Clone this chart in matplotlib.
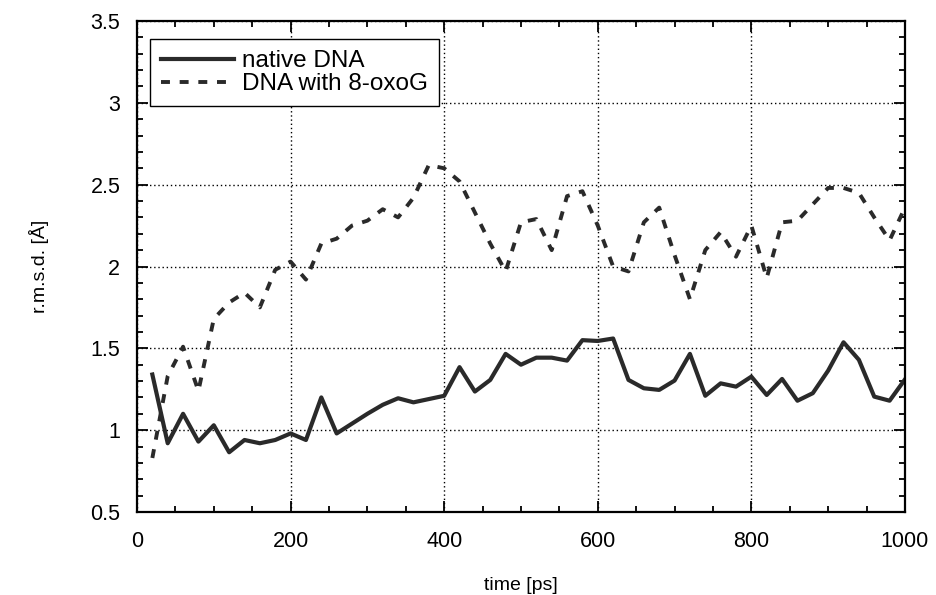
import matplotlib
matplotlib.use("Agg")
import matplotlib.pyplot as plt
from matplotlib.ticker import MultipleLocator

plt.rcParams['font.family'] = ['Liberation Sans', 'DejaVu Sans']

# time axis, sampled every 20 ps
time_ps = list(range(20, 1001, 20))

native_dna = [1.34, 0.92, 1.10, 0.93, 1.03, 0.865, 0.94, 0.92, 0.94, 0.98,
              0.94, 1.20, 0.98, 1.04, 1.10, 1.155, 1.195, 1.17, 1.19, 1.21,
              1.385, 1.236, 1.307, 1.466, 1.40, 1.443, 1.443, 1.425, 1.55, 1.545,
              1.56, 1.307, 1.256, 1.246, 1.303, 1.466, 1.21, 1.286, 1.266, 1.327,
              1.215, 1.313, 1.18, 1.226, 1.364, 1.537, 1.43, 1.205, 1.18, 1.31]

oxog_dna = [0.83, 1.33, 1.51, 1.24, 1.68, 1.78, 1.84, 1.75, 1.98, 2.03,
            1.92, 2.14, 2.17, 2.25, 2.28, 2.35, 2.30, 2.42, 2.62, 2.60,
            2.52, 2.33, 2.14, 1.97, 2.27, 2.29, 2.10, 2.43, 2.46, 2.25,
            2.00, 1.97, 2.27, 2.36, 2.07, 1.80, 2.10, 2.21, 2.06, 2.25,
            1.93, 2.27, 2.28, 2.38, 2.48, 2.48, 2.45, 2.30, 2.16, 2.36]

labels = ['native DNA', 'DNA with 8-oxoG']

fig = plt.figure(figsize=(9.37, 5.95), dpi=100)
ax = fig.add_axes([0.1462, 0.1395, 0.8196, 0.8252])

ax.plot(time_ps, native_dna, color='#2a2a2a', lw=3.0, label=labels[0])
ax.plot(time_ps, oxog_dna, color='#2a2a2a', lw=2.8, ls=(0, (2.3, 2.5)),
        label=labels[1])

ax.set_xlim(0, 1000)
ax.set_ylim(0.5, 3.5)
ax.xaxis.set_major_locator(MultipleLocator(200))
ax.xaxis.set_minor_locator(MultipleLocator(50))
ax.yaxis.set_minor_locator(MultipleLocator(0.1))
ax.set_yticks([0.5, 1, 1.5, 2, 2.5, 3, 3.5])
ax.set_yticklabels(['0.5', '1', '1.5', '2', '2.5', '3', '3.5'])

ax.tick_params(which='both', direction='in', top=True, right=True,
               color='black', width=1.3)
ax.tick_params(which='major', length=8, labelsize=15.5)
ax.tick_params(axis='y', which='major', pad=12)
ax.tick_params(axis='x', which='major', pad=14)
ax.tick_params(which='minor', length=4.5)

for sp in ax.spines.values():
    sp.set_linewidth(1.6)

ax.grid(True, which='major', color='black', ls=(0, (1, 2)), lw=1.0)

ax.set_xlabel('time [ps]', fontsize=14, labelpad=18)
ax.set_ylabel('r.m.s.d. [Å]', fontsize=14, labelpad=30)

leg = ax.legend(loc='upper left', bbox_to_anchor=(0.017, 0.963),
                borderaxespad=0, fontsize=17.5, handlelength=3.0,
                handletextpad=0.35, labelspacing=0.05, borderpad=0.45,
                fancybox=False, framealpha=1, edgecolor='black')
leg.get_frame().set_linewidth(1.0)

fig.savefig('out.png', dpi=100)
